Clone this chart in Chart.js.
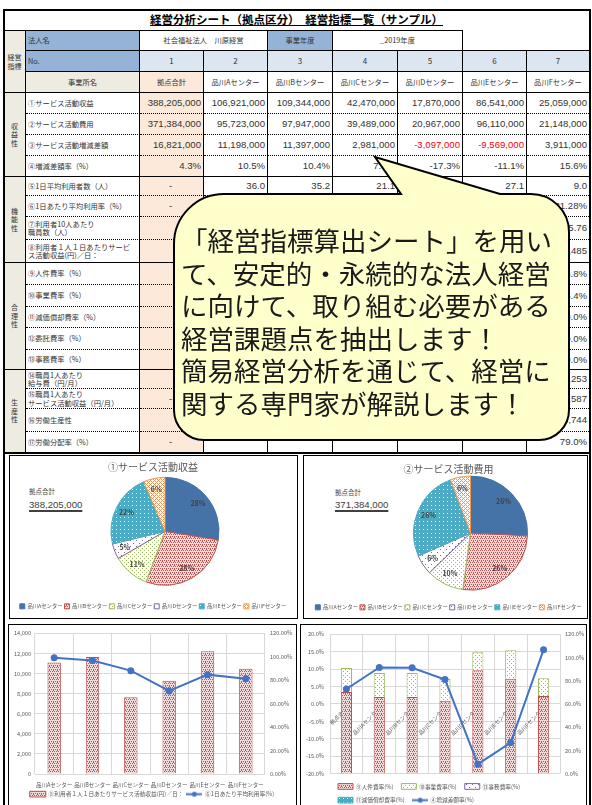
<!DOCTYPE html>
<html>
<head>
<meta charset="utf-8">
<script src="https://cdn.jsdelivr.net/npm/chart.js@4.4.1/dist/chart.umd.min.js"></script>
<style>
  body { margin: 0; width: 592px; height: 805px; overflow: hidden; background: #fff; position: relative;
         font-family: "Noto Sans CJK JP", sans-serif; color: #333; }
  .c { position: absolute; box-sizing: border-box; display: flex; align-items: center; overflow: hidden;
       white-space: nowrap; font-size: 7.3px; line-height: 1.15; border-right: 1px solid #000; border-bottom: 1px solid #000; }
  .num { font-family: "Liberation Sans", Arial, sans-serif; font-size: 9.6px; justify-content: flex-end; padding-right: 2px; }
  .lbl { padding-left: 2px; }
  .ctr { justify-content: center; text-align: center; }
  .box { position: absolute; box-sizing: border-box; border: 1px solid #000; }
  canvas { position: absolute; }
  .tot { position: absolute; color: #404040; }
</style>
</head>
<body>
<div id="sheet"></div>

<svg style="position:absolute;left:0;top:0;z-index:5" width="592" height="460">
  <path d="M224 194 L401 194 L375 157 L500 194 L531 194 A38 38 0 0 1 569 232 L569 410 A30 30 0 0 1 539 440 L204 440 A30 30 0 0 1 174 410 L174 244 A50 50 0 0 1 224 194 Z"
        fill="#FFFFCC" stroke="#000" stroke-width="2"/>
</svg>
<div id="bubbleText" style="position:absolute;left:181px;top:224px;z-index:6;font-size:26.5px;line-height:32.6px;color:#1a1a1a;white-space:nowrap">
「経営指標算出シート」を用い<br>て、安定的・永続的な法人経営<br>に向けて、取り組む必要がある<br>経営課題点を抽出します！<br>簡易経営分析を通じて、経営に<br>関する専門家が解説します！
</div>

<div class="box" style="left:9px;top:455px;width:289px;height:164px"></div>
<div class="box" style="left:303px;top:455px;width:285px;height:164px"></div>
<div class="box" style="left:8px;top:624px;width:289px;height:190px"></div>
<div class="box" style="left:300px;top:624px;width:287px;height:190px"></div>

<div class="tot" style="left:29px;top:486px;font-size:6.5px">拠点合計</div>
<div class="tot" style="left:29px;top:499px;font-size:9.6px;font-family:'Liberation Sans',sans-serif;text-decoration:underline;text-decoration-thickness:2px;text-underline-offset:2px">388,205,000</div>
<div class="tot" style="left:335px;top:487px;font-size:6.5px">拠点合計</div>
<div class="tot" style="left:335px;top:499px;font-size:9.6px;font-family:'Liberation Sans',sans-serif;text-decoration:underline;text-decoration-thickness:2px;text-underline-offset:2px">371,384,000</div>

<canvas id="pie1" width="286" height="163" style="left:10px;top:456px"></canvas>
<canvas id="pie2" width="283" height="164" style="left:307px;top:456px"></canvas>
<canvas id="bar1" width="286" height="182" style="left:9px;top:625px"></canvas>
<canvas id="bar2" width="284" height="188" style="left:301px;top:625px"></canvas>

<div style="position:absolute;left:3px;top:9px;width:588px;height:810px;border:2px solid #000;box-sizing:border-box;z-index:7;pointer-events:none"></div>
<div style="position:absolute;left:3px;top:452px;width:588px;height:2px;background:#000;z-index:7"></div>

<script>
// ---- sheet data ----
const centers = ['品川Aセンター', '品川Bセンター', '品川Cセンター', '品川Dセンター', '品川Eセンター', '品川Fセンター'];
const siteNames = ['拠点合計', ...centers];
const rowNames = ['①サービス活動収益', '②サービス活動費用', '③サービス活動増減差額', '④増減差額率（%）',
  '⑤1日平均利用者数（人）', '⑥1日あたり平均利用率（%）', '⑦利用者10人あたり<br>職員数（人）', '⑧利用者１人１日あたりサービ<br>ス活動収益(円)／日：',
  '⑨人件費率（%）', '⑩事業費率（%）', '⑪減価償却費率（%）', '⑫委託費率（%）', '⑬事務費率（%）',
  '⑭職員1人あたり<br>給与費（円/月）', '⑮職員1人あたり<br>サービス活動収益（円/月）', '⑯労働生産性', '⑰労働分配率（%）'];
const rowValues = [
  ['388,205,000', '106,921,000', '109,344,000', '42,470,000', '17,870,000', '86,541,000', '25,059,000'],
  ['371,384,000', '95,723,000', '97,947,000', '39,489,000', '20,967,000', '96,110,000', '21,148,000'],
  ['16,821,000', '11,198,000', '11,397,000', '2,981,000', '-3,097,000', '-9,569,000', '3,911,000'],
  ['4.3%', '10.5%', '10.4%', '7.0%', '-17.3%', '-11.1%', '15.6%'],
  ['-', '36.0', '35.2', '21.1', '', '27.1', '9.0'],
  ['-', '', '', '', '', '', '81.28%'],
  ['', '', '', '', '', '', '5.76'],
  ['', '', '', '', '', '', '10,485'],
  ['', '', '', '', '', '', '66.8%'],
  ['', '', '', '', '', '', '15.4%'],
  ['', '', '', '', '', '', '0.0%'],
  ['', '', '', '', '', '', '0.0%'],
  ['', '', '', '', '', '', '0.0%'],
  ['', '', '', '', '', '', '269,253'],
  ['-', '', '', '', '', '', '403,587'],
  ['', '', '', '', '', '', '339,744'],
  ['-', '', '', '', '', '', '79.0%']
];
const groups = [['収', '益', '性'], ['機', '能', '性'], ['合', '理', '性'], ['生', '産', '性']];

// ---- chart data ----
const revenue = [106921000, 109344000, 42470000, 17870000, 86541000, 25059000];
const expense = [95723000, 97947000, 39489000, 20967000, 96110000, 21148000];
const revenuePct = ['28%', '28%', '11%', '5%', '22%', '6%'];
const expensePct = ['26%', '26%', '10%', '6%', '26%', '6%'];
const revPerUser = [11100, 11650, 7650, 9280, 12210, 10485];
const useRate = [99.1, 96.8, 88.2, 70.9, 84.8, 81.28];
const personnelRate = [70.3, 66.0, 66.0, 62.7, 89.1, 81.8, 66.8];
const businessRate = [20.8, 20.6, 20.6, 18.8, 15.5, 24.4, 15.4];
const officeRate = [0, 0, 0, 0, 0, 0, 0];
const deprecRate = [0, 0, 0, 0, 0, 0, 0];
const marginRate = [4.3, 10.5, 10.4, 7.0, -17.3, -11.1, 15.6];

// ---- sheet layout ----
const sheet = document.getElementById('sheet');
const colX = [4, 26, 140, 204, 268, 333, 398, 463, 527, 589];
const rowY = [93, 114, 135, 156, 177, 196, 217, 240, 263, 285, 307, 328, 350, 370, 389, 409, 432, 453];
const groupEnd = [3, 7, 12, 16];
const BLUE = '#95B3D7', LBLUE = '#DCE6F1', BEIGE = '#EEECE1', PEACH = '#FDE9D9';

function cell(x1, y1, x2, y2, html, cls, css) {
  const d = document.createElement('div');
  d.className = 'c ' + (cls || '');
  d.style.cssText = `left:${x1}px;top:${y1}px;width:${x2 - x1}px;height:${y2 - y1}px;` + (css || '');
  d.innerHTML = html;
  sheet.appendChild(d);
}

cell(4, 9, 589, 30, '<span style="font-weight:bold;font-size:11.5px;text-decoration:underline;color:#000">経営分析シート（拠点区分）　経営指標一覧（サンプル）</span>',
  'ctr', 'border:none;');
cell(4, 30, 26, 93, '経営<br>指標', 'ctr', `background:${BEIGE};border-top:1px solid #000;font-size:7px;`);
cell(26, 30, 140, 51, '法人名', 'lbl', `background:${BLUE};border-top:1px solid #000;`);
cell(140, 30, 268, 51, '社会福祉法人　川原経営', 'ctr', 'border-top:1px solid #000;');
cell(268, 30, 333, 51, '事業年度', 'ctr', `background:${BLUE};border-top:1px solid #000;`);
cell(333, 30, 463, 51, '_2019年度', 'ctr', 'border-top:1px solid #000;');
cell(463, 30, 589, 51, '', '', 'border-right:none;');
cell(26, 51, 140, 72, 'No.', 'lbl', `background:${BLUE};`);
cell(26, 72, 140, 93, '事業所名', 'ctr', `background:${BEIGE};`);
siteNames.forEach((name, i) => {
  const right = i === 6 ? 'border-right:none;' : '';
  cell(colX[i + 2], 51, colX[i + 3], 72, String(i + 1), 'ctr', `background:${LBLUE};font-size:8px;` + right);
  cell(colX[i + 2], 72, colX[i + 3], 93, name, 'ctr', (i === 0 ? `background:${PEACH};` : '') + right);
});

rowNames.forEach((name, r) => {
  const y1 = rowY[r], y2 = rowY[r + 1];
  const bottom = groupEnd.includes(r) ? '' : 'border-bottom:1px dotted #000;';
  cell(26, y1, 140, y2, name, 'lbl', bottom);
  rowValues[r].forEach((v, i) => {
    const isDash = v === '-';
    const color = v.startsWith('-') && v.length > 1 && r === 2 ? 'color:#FF0000;' : '';
    const css = bottom + color + (i === 0 ? `background:${PEACH};` : '') + (i === 6 ? 'border-right:none;' : '');
    cell(colX[i + 2], y1, colX[i + 3], y2, v, isDash ? 'num ctr' : 'num', css);
  });
});
[[0, 4], [4, 8], [8, 13], [13, 17]].forEach(([a, b], g) => {
  cell(4, rowY[a], 26, rowY[b], groups[g].join('<br>'), 'ctr', `background:${BEIGE};font-size:7px;line-height:1.2;`);
});

// ---- charts ----
const FAM = '"Noto Sans CJK JP", sans-serif';
Chart.defaults.font.family = FAM;
Chart.defaults.color = '#595959';

function pattern(size, bg, fg, pts) {
  const c = document.createElement('canvas');
  c.width = c.height = size;
  const x = c.getContext('2d');
  x.fillStyle = bg; x.fillRect(0, 0, size, size);
  x.fillStyle = fg;
  pts.forEach(([a, b]) => x.fillRect(a, b, 1, 1));
  return x.createPattern(c, 'repeat');
}
const redChk = pattern(4, '#F2DCDB', '#C0504D', [[0, 0], [2, 0], [1, 2], [3, 2], [0, 1]]);
const greenDots = pattern(4, '#fff', '#9BBB59', [[0, 0], [2, 2]]);
const purpleDots = pattern(6, '#fff', '#8064A2', [[0, 0], [3, 3]]);
const tealDots = pattern(4, '#fff', '#4BACC6', [[0, 0], [1, 0], [2, 0], [3, 0], [0, 1], [1, 1], [3, 1], [0, 2], [1, 2], [2, 2], [3, 2], [0, 3], [1, 3], [2, 3], [3, 3]]);
const orangeDiag = pattern(4, '#fff', '#F79646', [[0, 0], [1, 1], [2, 2], [3, 3], [1, 3], [3, 1]]);
const pieFills = ['#4572A7', redChk, greenDots, purpleDots, tealDots, orangeDiag];
const pieBorders = ['#4572A7', '#C0504D', '#9BBB59', '#8064A2', '#4BACC6', '#F79646'];

// shifts the pie sideways inside its box (title and legend stay centred) and writes the % labels
const pieLabels = {
  id: 'pieLabels',
  beforeDatasetsDraw(chart, args, opts) {
    chart.ctx.save();
    chart.ctx.translate(opts.dx, 0);
  },
  afterDatasetsDraw(chart, args, opts) {
    const ctx = chart.ctx;
    chart.getDatasetMeta(0).data.forEach((arc, i) => {
      const p = arc.getProps(['x', 'y', 'startAngle', 'endAngle', 'outerRadius'], true);
      const mid = (p.startAngle + p.endAngle) / 2;
      const r = p.outerRadius * opts.dist;
      ctx.font = 'bold 7px ' + FAM;
      ctx.fillStyle = '#404040';
      ctx.textAlign = 'center';
      ctx.textBaseline = 'middle';
      ctx.fillText(opts.labels[i], p.x + Math.cos(mid) * r, p.y + Math.sin(mid) * r);
    });
    ctx.restore();
  }
};

function pieChart(id, title, values, pct, radius, dx, titlePad) {
  new Chart(document.getElementById(id), {
    type: 'pie',
    data: { labels: centers, datasets: [{ data: values, backgroundColor: pieFills, borderColor: pieBorders, borderWidth: 1, radius: radius }] },
    options: {
      responsive: false, animation: false,
      plugins: {
        title: { display: true, text: title, color: '#595959', font: { size: 10, weight: 'normal' }, padding: titlePad },
        legend: { position: 'bottom', labels: { boxWidth: 5, boxHeight: 5, padding: 2, font: { size: 5.3 }, color: '#595959' } },
        tooltip: { enabled: false },
        pieLabels: { labels: pct, dist: 0.8, dx: dx }
      }
    },
    plugins: [pieLabels]
  });
}
pieChart('pie1', '①サービス活動収益', revenue, revenuePct, 54, 12, { top: 5, bottom: -12 });
pieChart('pie2', '②サービス活動費用', expense, expensePct, 57, 22, { top: 7, bottom: -11.5 });

// legend symbol for the line series: line with a dot
const lineIcon = document.createElement('canvas');
lineIcon.width = 16; lineIcon.height = 7;
(() => {
  const x = lineIcon.getContext('2d');
  x.strokeStyle = '#4472C4'; x.lineWidth = 2;
  x.beginPath(); x.moveTo(0, 3.5); x.lineTo(16, 3.5); x.stroke();
  x.fillStyle = '#4472C4'; x.beginPath(); x.arc(8, 3.5, 2.5, 0, Math.PI * 2); x.fill();
})();
function legendItems(chart) {
  return Chart.defaults.plugins.legend.labels.generateLabels(chart).map(item => {
    item.pointStyle = chart.data.datasets[item.datasetIndex].type === 'line' ? lineIcon : 'rect';
    return item;
  });
}
const tickFont = { size: 5.6 };
const gridColor = '#D9D9D9';

new Chart(document.getElementById('bar1'), {
  type: 'bar',
  data: {
    labels: centers,
    datasets: [
      { type: 'bar', label: '⑧利用者１人１日あたりサービス活動収益(円)／日：', data: revPerUser, backgroundColor: redChk,
        borderColor: '#C0504D', borderWidth: 1, yAxisID: 'y', order: 1, barPercentage: 0.35, categoryPercentage: 1 },
      { type: 'line', label: '⑥1日あたり平均利用率(%)', data: useRate, borderColor: '#4472C4', backgroundColor: '#4472C4',
        borderWidth: 2, pointRadius: 2.5, pointBackgroundColor: '#4472C4', yAxisID: 'y2', order: 0 }
    ]
  },
  options: {
    responsive: false, animation: false,
    layout: { padding: { top: 6 } },
    scales: {
      x: { grid: { color: gridColor, drawTicks: false }, border: { display: false },
           ticks: { font: { size: 5.5 }, padding: 8, maxRotation: 0, autoSkip: false }, afterFit: s => { s.height = 14.2; } },
      y: { position: 'left', min: 0, max: 14000, grid: { color: gridColor, drawTicks: false }, border: { display: false },
           ticks: { stepSize: 2000, font: tickFont, padding: 4, callback: v => v.toLocaleString('en-US') }, afterFit: s => { s.width = 26; } },
      y2: { position: 'right', min: 0, max: 120, grid: { display: false, drawTicks: false }, border: { display: false },
            ticks: { stepSize: 20, font: tickFont, padding: 5, callback: v => v.toFixed(2) + '%' }, afterFit: s => { s.width = 30; } }
    },
    plugins: {
      tooltip: { enabled: false },
      legend: { position: 'bottom', labels: { usePointStyle: true, pointStyleWidth: 16, boxHeight: 6, padding: 3,
        font: { size: 5.7 }, color: '#595959', generateLabels: legendItems, sort: (a, b) => a.datasetIndex - b.datasetIndex } }
    }
  }
});

new Chart(document.getElementById('bar2'), {
  type: 'bar',
  data: {
    labels: siteNames,
    datasets: [
      { label: '⑨人件費率(%)', data: personnelRate, backgroundColor: redChk, borderColor: '#C0504D', borderWidth: 1, yAxisID: 'y2', order: 1 },
      { label: '⑩事業費率(%)', data: businessRate, backgroundColor: greenDots, borderColor: '#9BBB59', borderWidth: 1, yAxisID: 'y2', order: 1 },
      { label: '⑬事務費率(%)', data: officeRate, backgroundColor: purpleDots, borderColor: '#8064A2', borderWidth: 1, yAxisID: 'y2', order: 1 },
      { label: '⑪減価償却費率(%)', data: deprecRate, backgroundColor: tealDots, borderColor: '#4BACC6', borderWidth: 1, yAxisID: 'y2', order: 1 },
      { type: 'line', label: '④増減差額率(%)', data: marginRate, borderColor: '#4472C4', backgroundColor: '#4472C4',
        borderWidth: 2, pointRadius: 2.5, pointBackgroundColor: '#4472C4', yAxisID: 'y', order: 0 }
    ].map(d => Object.assign({ barPercentage: 0.34, categoryPercentage: 1 }, d))
  },
  options: {
    responsive: false, animation: false,
    layout: { padding: { top: 6 } },
    scales: {
      x: { position: { y: 0 }, stacked: true, grid: { color: gridColor, drawTicks: false }, border: { display: false },
           ticks: { font: { size: 5.5 }, padding: 2, minRotation: 45, maxRotation: 45, autoSkip: false } },
      xPad: { type: 'category', position: 'bottom', grid: { display: false }, border: { display: false },
              ticks: { display: false }, afterFit: s => { s.height = 2; } },
      y: { position: 'left', min: -20, max: 20, grid: { color: gridColor, drawTicks: false }, border: { display: false },
           ticks: { stepSize: 5, font: tickFont, padding: 6, callback: v => v.toFixed(1) + '%' }, afterFit: s => { s.width = 29; } },
      y2: { position: 'right', min: 0, max: 120, stacked: true, grid: { display: false, drawTicks: false }, border: { display: false },
            ticks: { stepSize: 20, font: tickFont, padding: 5, callback: v => v.toFixed(1) + '%' }, afterFit: s => { s.width = 25; } }
    },
    plugins: {
      tooltip: { enabled: false },
      legend: { position: 'bottom', align: 'start', fullSize: false,
        labels: { usePointStyle: true, pointStyleWidth: 15, boxHeight: 6, padding: 8, font: { size: 5.7 }, color: '#595959',
          generateLabels: legendItems, sort: (a, b) => a.datasetIndex - b.datasetIndex } }
    }
  }
});
</script>
</body>
</html>
